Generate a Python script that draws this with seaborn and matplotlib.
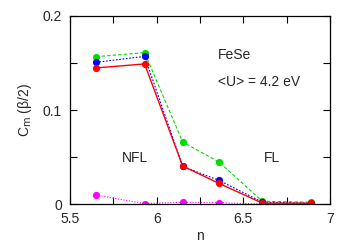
import matplotlib
matplotlib.use("Agg")
import matplotlib.pyplot as plt
import seaborn as sns
from matplotlib.ticker import MultipleLocator, FuncFormatter

sns.set_style("ticks")
plt.rcParams['font.family'] = ['Liberation Sans', 'DejaVu Sans']

n = [5.65, 5.93, 6.15, 6.36, 6.61, 6.89]
green = [0.1567, 0.161, 0.066, 0.0447, 0.003, 0.002]
blue = [0.1507, 0.157, 0.040, 0.0252, 0.002, 0.001]
red = [0.1447, 0.149, 0.0404, 0.022, 0.001, 0.001]
magenta = [0.0096, 0.0005, 0.002, 0.0015, 0.0, 0.0]

fig, ax = plt.subplots(figsize=(3.54, 2.45), dpi=100)
fig.subplots_adjust(left=0.198, right=0.932, top=0.935, bottom=0.167)

series = [
    (magenta, '#ff00ff', (0, (1, 1.5)), 0.8),
    (green, '#00dd00', (0, (3, 2)), 0.8),
    (blue, '#0000ff', (0, (1.5, 1.5)), 0.8),
    (red, '#ff0000', '-', 1.0),
]
for vals, col, ls, lw in series:
    sns.lineplot(x=n, y=vals, ax=ax, color=col, marker='o', markersize=5.2,
                 markeredgewidth=0, linewidth=lw, linestyle=ls)

ax.set_xlim(5.5, 7)
ax.set_ylim(0, 0.2)
ax.xaxis.set_major_locator(MultipleLocator(0.5))
ax.xaxis.set_minor_locator(MultipleLocator(0.25))
ax.yaxis.set_major_locator(MultipleLocator(0.1))
ax.yaxis.set_minor_locator(MultipleLocator(0.05))
ax.xaxis.set_major_formatter(FuncFormatter(lambda v, p: f"{v:g}"))
ax.yaxis.set_major_formatter(FuncFormatter(lambda v, p: f"{v:g}"))
ax.tick_params(which='both', direction='in', top=True, right=True, labelsize=10,
               width=0.8, color='black', pad=6, length=5)
for s in ax.spines.values():
    s.set_linewidth(0.9)
    s.set_color('black')

ax.set_xlabel('n', fontsize=10, labelpad=2)
ax.set_ylabel(r'C$_\mathrm{m}$ (β/2)', fontsize=10, labelpad=6)

ax.text(6.354, 0.1585, 'FeSe', fontsize=10, ha='left', va='center')
ax.text(6.354, 0.1298, '<U> = 4.2 eV', fontsize=10, ha='left', va='center')
ax.text(5.875, 0.049, 'NFL', fontsize=10, ha='center', va='center')
ax.text(6.666, 0.049, 'FL', fontsize=10, ha='center', va='center')

fig.savefig('out.png', dpi=100)
